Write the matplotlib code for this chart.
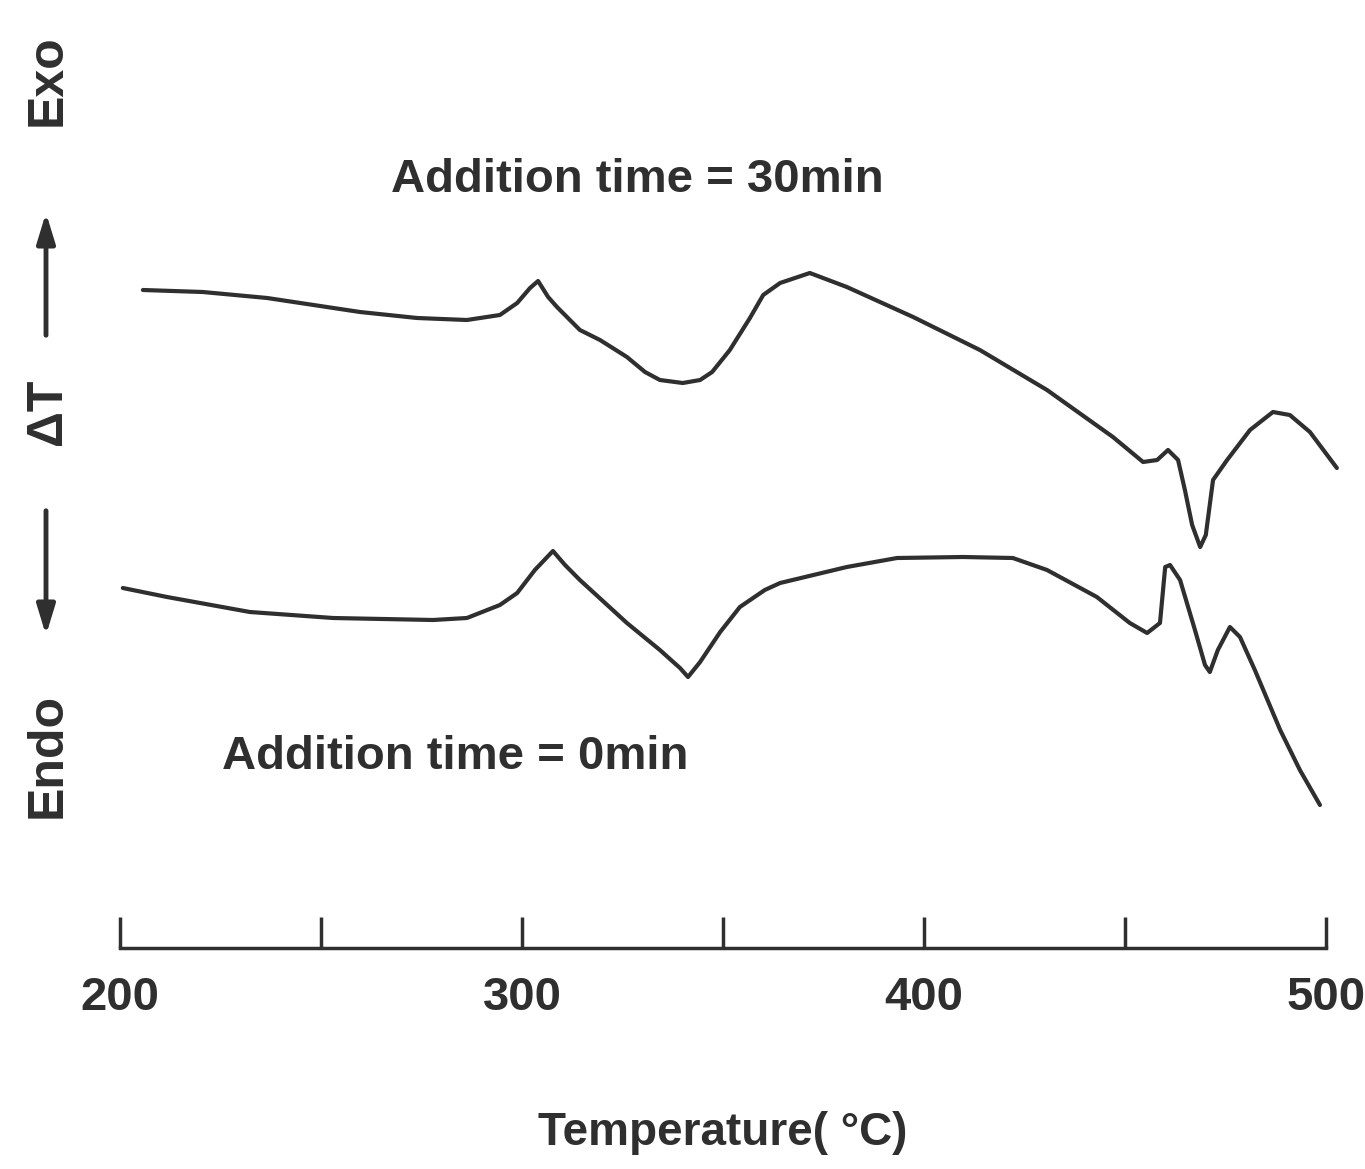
import numpy as np
import matplotlib.pyplot as plt

# DTA curves (temperature in degC, delta T in arbitrary units)
temp_30 = [205.7, 220.6, 236.6, 259.7, 273.9, 286.3, 294.5, 298.8, 302.0, 304.0,
           306.5, 308.7, 314.4, 319.4, 326.1, 330.6, 334.3, 340.0, 344.3, 347.3,
           351.7, 356.7, 360.0, 364.2, 371.6, 380.8, 397.3, 413.9, 430.6, 447.0,
           454.5, 458.0, 460.7, 463.2, 464.9, 466.7, 468.7, 470.1, 471.9, 475.4,
           481.1, 486.8, 491.0, 496.0, 502.7]
dt_30 = [41.0, 40.8, 40.2, 38.8, 38.2, 38.0, 38.5, 39.7, 41.2, 41.9,
         40.3, 39.3, 37.0, 36.0, 34.3, 32.8, 32.0, 31.7, 32.0, 32.8,
         35.0, 38.2, 40.5, 41.7, 42.7, 41.3, 38.3, 35.0, 31.0, 26.3,
         23.8, 24.0, 25.0, 24.0, 21.0, 17.5, 15.3, 16.5, 22.0, 24.0,
         27.0, 28.8, 28.5, 26.8, 23.2]

temp_0 = [200.7, 211.7, 232.3, 253.0, 277.9, 286.3, 294.5, 298.8, 303.2, 307.7,
          310.7, 314.4, 326.1, 334.3, 339.3, 341.3, 344.3, 349.3, 354.2, 360.4,
          364.2, 380.8, 393.3, 409.7, 422.1, 430.6, 443.0, 451.2, 455.5, 458.7,
          460.0, 461.2, 463.7, 467.4, 469.9, 471.1, 473.1, 476.1, 478.6, 482.3,
          488.6, 493.5, 498.5]
dt_0 = [11.2, 10.3, 8.8, 8.2, 8.0, 8.2, 9.5, 10.7, 13.0, 14.9,
        13.5, 12.0, 7.7, 5.0, 3.2, 2.3, 3.8, 6.8, 9.3, 11.0,
        11.7, 13.3, 14.2, 14.3, 14.2, 13.0, 10.3, 7.7, 6.7, 7.7,
        13.3, 13.5, 12.0, 7.0, 3.5, 2.8, 5.0, 7.3, 6.3, 3.0,
        -3.0, -7.0, -10.5]

major_ticks = [200, 300, 400, 500]
minor_ticks = [250, 350, 450]

ink = '#2f2f2f'
plt.rcParams['font.family'] = ['Liberation Sans', 'DejaVu Sans']

fig = plt.figure(figsize=(13.65, 11.69), dpi=100)
ax = fig.add_axes([120 / 1365, 1 - 948 / 1169, 1206 / 1365, (948 - 20) / 1169])

ax.plot(temp_30, dt_30, color=ink, lw=3, solid_joinstyle='round',
        solid_capstyle='round', clip_on=False)
ax.plot(temp_0, dt_0, color=ink, lw=3, solid_joinstyle='round',
        solid_capstyle='round', clip_on=False)

ax.set_xlim(200, 500)
ax.set_ylim(-24.8, 68)
for s in ['left', 'top', 'right']:
    ax.spines[s].set_visible(False)
ax.spines['bottom'].set_linewidth(2.5)
ax.spines['bottom'].set_color(ink)
ax.set_yticks([])

ax.set_xticks(major_ticks)
ax.set_xticks(minor_ticks, minor=True)
ax.tick_params(axis='x', which='both', direction='in', length=22, width=2.5,
               color=ink, pad=20, labelsize=34, labelcolor=ink)
for lab in ax.get_xticklabels():
    lab.set_fontweight('bold')

ax.set_xlabel('Temperature( \u00b0C)', fontsize=33, fontweight='bold',
              color=ink, labelpad=66)

ax.text(328.6, 52, 'Addition time = 30min', fontsize=34, fontweight='bold',
        color=ink, ha='center', va='center')
ax.text(283.3, -5.7, 'Addition time = 0min', fontsize=34, fontweight='bold',
        color=ink, ha='center', va='center')

# vertical Endo / Exo label with arrows
def fy(py):
    return 1 - py / 1169

xl = 48 / 1365
fig.text(xl, fy(80), 'Exo', rotation=90, fontsize=36, fontweight='bold',
         color=ink, ha='center', va='center')
fig.text(xl, fy(412), '\u0394T', rotation=90, fontsize=36, fontweight='bold',
         color=ink, ha='center', va='center')
fig.text(xl, fy(755), 'Endo', rotation=90, fontsize=36, fontweight='bold',
         color=ink, ha='center', va='center')
arrow = dict(arrowstyle='-|>,head_length=1.8,head_width=0.55', color=ink, lw=3.5)
ax.annotate('', xy=(46 / 1365, fy(210)), xytext=(46 / 1365, fy(338)),
            xycoords='figure fraction', textcoords='figure fraction', arrowprops=arrow)
ax.annotate('', xy=(46 / 1365, fy(638)), xytext=(46 / 1365, fy(508)),
            xycoords='figure fraction', textcoords='figure fraction', arrowprops=arrow)

fig.savefig('out.png', dpi=100)
